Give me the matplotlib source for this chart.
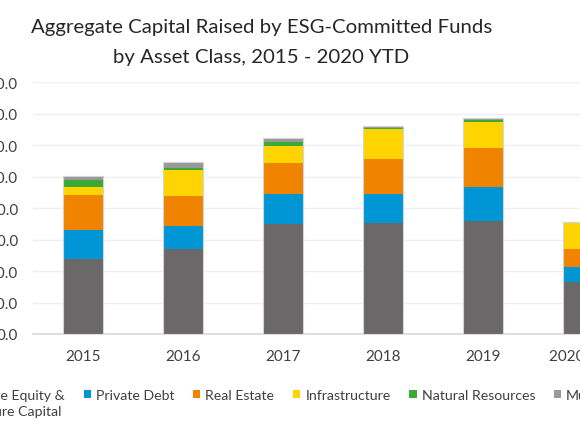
import matplotlib
matplotlib.use("Agg")
import matplotlib.pyplot as plt
from matplotlib.patches import Patch, Rectangle
from matplotlib.legend_handler import HandlerPatch
import numpy as np

years = ["2015", "2016", "2017", "2018", "2019", "2020 YTD"]
series_names = ["Private Equity &\nVenture Capital", "Private Debt", "Real Estate",
                "Infrastructure", "Natural Resources", "Multi-Asset"]
pe_vc = [47.6, 54.2, 69.8, 70.6, 71.8, 33.2]
private_debt = [18.8, 14.4, 19.2, 18.4, 21.6, 9.2]
real_estate = [22.0, 19.0, 19.9, 22.0, 24.6, 11.6]
infrastructure = [4.9, 16.6, 10.8, 19.4, 16.5, 16.3]
natural_resources = [4.4, 1.3, 2.5, 0.3, 1.5, 0.2]
multi_asset = [2.8, 3.6, 2.2, 1.3, 1.3, 0.6]
yticks = [0, 20, 40, 60, 80, 100, 120, 140, 160]
title_lines = ["Aggregate Capital Raised by ESG-Committed Funds",
               "by Asset Class, 2015 - 2020 YTD"]

colors = ["#6a6868", "#0096d6", "#f08300", "#ffd400", "#3aa935", "#999999"]
data = [pe_vc, private_debt, real_estate, infrastructure, natural_resources, multi_asset]

plt.rcParams['font.family'] = ['Lato', 'DejaVu Sans']

fig = plt.figure(figsize=(5.8, 4.35), dpi=100)
W, H = 580, 435
ax = fig.add_axes([33.3 / W, (H - 335) / H, 600 / W, (335 - 83.3) / H])

x = np.arange(len(years))
bottom = np.zeros(len(years))
for vals, c in zip(data, colors):
    ax.bar(x, vals, 0.4, bottom=bottom, color=c, edgecolor='none', zorder=3)
    bottom += np.array(vals)
ax.bar(x, bottom, 0.4, facecolor='none', edgecolor='#d4d4d4', linewidth=0.8, zorder=4)

ax.set_xlim(-0.5, 5.5)
ax.set_ylim(0, 160)
ax.set_yticks(yticks)
ax.set_yticklabels([f"{v:.1f}" for v in yticks])
ax.set_xticks(x)
ax.set_xticklabels(years)
ax.grid(axis='y', color='#efefef', linewidth=1.0, zorder=0)
for s in ['top', 'right', 'left']:
    ax.spines[s].set_visible(False)
ax.spines['bottom'].set_color('#d9d9d9')
ax.spines['bottom'].set_linewidth(1.2)
ax.tick_params(axis='both', length=0, labelsize=11, colors='#404040')
ax.tick_params(axis='y', pad=11)
ax.tick_params(axis='x', pad=10.5)

fig.text(0.451, 1 - 33.3 / H, title_lines[0], ha='center', va='baseline',
         fontsize=14.7, color='#262626')
fig.text(0.451, 1 - 63.3 / H, title_lines[1], ha='center', va='baseline',
         fontsize=14.7, color='#262626')

LFS = 10.2


def top_patch(legend, orig_handle, xdescent, ydescent, width, height, fontsize):
    return Rectangle((-xdescent, -ydescent + 0.64 * fontsize), width, height)


handles = [Patch(facecolor=c, edgecolor='none') for c in colors]
labels = [series_names[0]] + [n + "\n" for n in series_names[1:]]
leg = fig.legend(handles, labels, loc='upper left', bbox_to_anchor=(-0.0954, 0.1195),
                 ncol=6, frameon=False, fontsize=LFS, handlelength=0.52, handleheight=0.52,
                 handletextpad=0.35, columnspacing=1.32, labelcolor='#404040', borderpad=0,
                 handler_map={Patch: HandlerPatch(patch_func=top_patch)})
for t in leg.get_texts():
    t.set_linespacing(1.35)

fig.savefig("out.png", dpi=100)
